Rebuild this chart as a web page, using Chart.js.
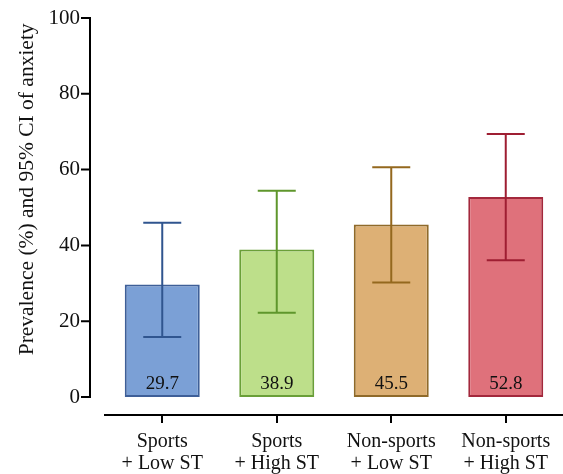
<!DOCTYPE html>
<html>
<head>
<meta charset="utf-8">
<script src="https://cdn.jsdelivr.net/npm/chart.js@4"></script>
<style>
html,body{margin:0;padding:0;background:#fff;}
#wrap{width:563px;height:474px;position:relative;}
</style>
</head>
<body>
<div id="wrap"><canvas id="c" width="563" height="474"></canvas></div>
<script>
const categories = [["Sports", "+ Low ST"], ["Sports", "+ High ST"], ["Non-sports", "+ Low ST"], ["Non-sports", "+ High ST"]];
const prevalence = [29.7, 38.9, 45.5, 52.8];
const ciLow = [15.8, 22.2, 30.2, 36.1];
const ciHigh = [46.0, 54.4, 60.6, 69.4];
const yTicks = [0, 20, 40, 60, 80, 100];
const fillColors = ["#7ba0d6", "#bddf8a", "#ddb075", "#df717b"];
const borderColors = ["#3e5f98", "#6a9f38", "#8f6a2a", "#a3283c"];
const errColors = ["#30558f", "#5f962c", "#94681e", "#9e1e32"];

const FONT = "'Liberation Serif', 'Times New Roman', serif";

const decor = {
  id: 'decor',
  afterDraw(chart) {
    const ctx = chart.ctx;
    const y = chart.scales.y;
    const x = chart.scales.x;
    const x0 = chart.chartArea.left - 15;
    ctx.save();
    ctx.strokeStyle = '#000';
    ctx.lineWidth = 2;
    ctx.beginPath();
    ctx.moveTo(x0, y.getPixelForValue(100) - 1);
    ctx.lineTo(x0, y.getPixelForValue(0) + 1);
    yTicks.forEach(v => {
      const py = y.getPixelForValue(v);
      ctx.moveTo(x0 - 9, py);
      ctx.lineTo(x0, py);
    });
    const by = chart.chartArea.bottom;
    categories.forEach((c, i) => {
      const px = Math.round(x.getPixelForValue(i));
      ctx.moveTo(px, by);
      ctx.lineTo(px, by + 8);
    });
    ctx.stroke();
    ctx.restore();
  },
  afterDatasetsDraw(chart) {
    const ctx = chart.ctx;
    const y = chart.scales.y;
    const meta = chart.getDatasetMeta(0);
    ctx.save();
    meta.data.forEach((bar, i) => {
      const cx = bar.x;
      const top = y.getPixelForValue(ciHigh[i]);
      const bot = y.getPixelForValue(ciLow[i]);
      ctx.strokeStyle = errColors[i];
      ctx.lineWidth = 2;
      ctx.beginPath();
      ctx.moveTo(cx, top);
      ctx.lineTo(cx, bot);
      ctx.moveTo(cx - 19, top);
      ctx.lineTo(cx + 19, top);
      ctx.moveTo(cx - 19, bot);
      ctx.lineTo(cx + 19, bot);
      ctx.stroke();
      ctx.fillStyle = '#111';
      ctx.font = "19px " + FONT;
      ctx.textAlign = 'center';
      ctx.textBaseline = 'middle';
      ctx.fillText(prevalence[i].toFixed(1), cx, y.getPixelForValue(0) - 13);
    });
    ctx.restore();
  }
};

new Chart(document.getElementById('c'), {
  type: 'bar',
  data: {
    labels: categories,
    datasets: [{
      data: prevalence,
      backgroundColor: fillColors,
      borderColor: borderColors,
      borderWidth: 2,
      borderSkipped: false,
      categoryPercentage: 1,
      barPercentage: 0.655
    }]
  },
  options: {
    responsive: false,
    animation: false,
    layout: { padding: { left: 0, right: 0, top: 18, bottom: 0 } },
    plugins: { legend: { display: false }, tooltip: { enabled: false } },
    scales: {
      x: {
        afterFit(scale) { scale.height = 59; scale.paddingLeft = 0; scale.paddingRight = 0; },
        grid: { display: false, drawTicks: false },
        border: { display: true, color: '#000', width: 2 },
        ticks: { color: '#111', font: { family: FONT, size: 20, lineHeight: 1.1 }, padding: 16, maxRotation: 0, autoSkip: false }
      },
      y: {
        min: -4.75,
        max: 100,
        afterBuildTicks(scale) { scale.ticks = yTicks.map(v => ({ value: v })); },
        afterFit(scale) { scale.width = 105; scale.paddingTop = 0; scale.paddingBottom = 0; },
        grid: { display: false, drawTicks: false },
        border: { display: false },
        ticks: { color: '#111', font: { family: FONT, size: 21 }, padding: 25 },
        title: {
          display: true,
          text: 'Prevalence (%) and 95% CI of anxiety ',
          align: 'end',
          color: '#111',
          font: { family: FONT, size: 21.5 },
          padding: { top: 14, bottom: 0 }
        }
      }
    }
  },
  plugins: [decor]
});
</script>
</body>
</html>
